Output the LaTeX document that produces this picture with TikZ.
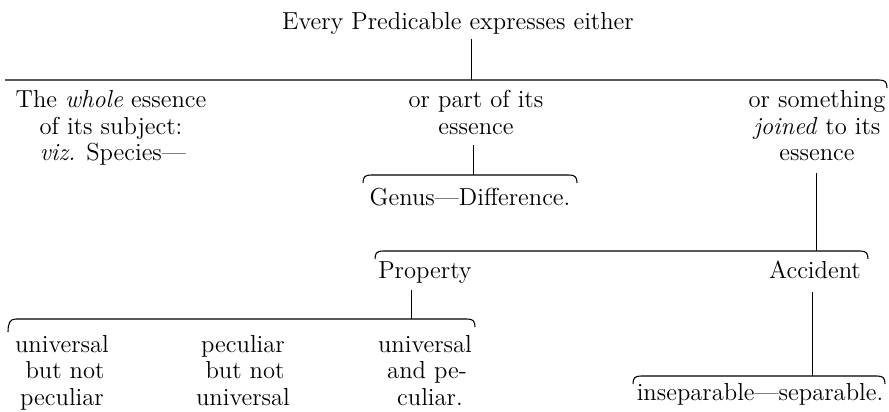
\documentclass[tikz,border=0pt]{standalone}
\begin{document}
\begin{tikzpicture}[x=0.02cm,y=-0.02cm,
  every node/.style={font=\fontsize{14}{15}\selectfont, inner sep=0pt, anchor=base},
  rule/.style={line width=0.6pt},
  conn/.style={line width=0.5pt}]
\useasboundingbox (0,0) rectangle (889,412);
% title
\node (title) at (458,30) {Every Predicable expresses either};
% top rule with right hook
\coordinate (b1L) at (5,80);
\coordinate (b1R) at (887,88);
\coordinate (b1v) at (471,80);
\draw[rule] (b1L) -- (879,80) .. controls (885,80) and (887,82) .. (b1R);
\coordinate (t1) at (471,39);
\draw[conn] (t1) -- (b1v);
% left column
\node (w1) at (111,108) {The \textit{whole} essence};
\node (w2) at (111,134) {of its subject:};
\node (w3) at (113,160) {\textit{viz.} Species---};
% middle column
\node (p1) at (476,108) {or part of its};
\node (p2) at (476,134) {essence};
% right column
\node (j1) at (817,108) {or something};
\node (j2) at (817,134) {\textit{joined} to its};
\node (j3) at (817,160) {essence};
% Genus brace
\coordinate (g0) at (473,145);
\coordinate (gv) at (473,175);
\draw[rule] (363,183) .. controls (363,177) and (365,175) .. (371,175) -- (569,175) .. controls (575,175) and (577,177) .. (577,183);
\draw[conn] (g0) -- (gv);
\node (gd) at (470,205) {Genus---Difference.};
% Property / Accident brace
\coordinate (a0) at (816,173);
\coordinate (av) at (816,251);
\draw[conn] (a0) -- (av);
\draw[rule] (375,259) .. controls (375,253) and (377,251) .. (383,251) -- (860,251) .. controls (866,251) and (868,253) .. (868,259);
\node (prop) at (425,278) {Property};
\node (acc) at (815,278) {Accident};
% lower left brace
\coordinate (q0) at (411,290);
\coordinate (qv) at (411,319);
\draw[conn] (q0) -- (qv);
\draw[rule] (8,332) .. controls (8,323) and (10,319) .. (16,319) -- (467,319) .. controls (473,319) and (475,321) .. (475,327);
\node (u1) at (62,352) {universal};
\node (u2) at (65,378) {but not};
\node (u3) at (62,405) {peculiar};
\node (c1) at (243,352) {peculiar};
\node (c2) at (245,378) {but not};
\node (c3) at (243,405) {universal};
\node (d1) at (425,352) {universal};
\node (d2) at (427,378) {and pe-};
\node (d3) at (430,405) {culiar.};
% inseparable brace
\coordinate (s0) at (812,292);
\coordinate (sv) at (812,376);
\draw[conn] (s0) -- (sv);
\draw[rule] (633,384) .. controls (633,378) and (635,376) .. (641,376) -- (877,376) .. controls (883,376) and (885,378) .. (885,384);
\node (ins) at (760,400) {inseparable---separable.};
\end{tikzpicture}
\end{document}
